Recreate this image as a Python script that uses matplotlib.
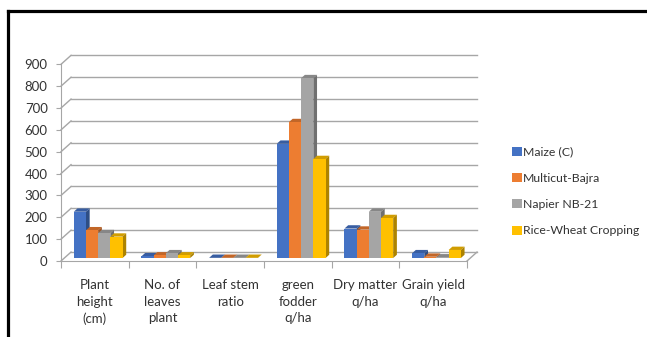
import matplotlib
matplotlib.use("Agg")
import matplotlib.pyplot as plt
from matplotlib.patches import Polygon, Patch
from matplotlib.lines import Line2D
import matplotlib.colors as mcolors
import numpy as np

plt.rcParams["font.family"] = ["Lato", "DejaVu Sans"]

categories = ["Plant\nheight\n(cm)", "No. of\nleaves\nplant", "Leaf stem\nratio",
              "green\nfodder\nq/ha", "Dry matter\nq/ha", "Grain yield\nq/ha"]
series = ["Maize (C)", "Multicut-Bajra", "Napier NB-21", "Rice-Wheat Cropping"]
maize = [212, 8, 1, 523, 135, 22]
multicut = [127, 12, 1, 622, 130, 6]
napier = [114, 22, 1, 823, 212, 3]
rice_wheat = [98, 12, 1, 453, 183, 37]
colors = ["#4472C4", "#ED7D31", "#A5A5A5", "#FFC000"]

values = [maize, multicut, napier, rice_wheat]

fig = plt.figure(figsize=(6.47, 3.37), dpi=100)
ax = fig.add_axes([0.0943, 0.2255, 0.6275, 0.5837])
ax.set_xlim(0, 6)
ax.set_ylim(0, 900)

# depth of the 3D box (in category units / value units)
dxb, dyb = 0.148, 41
f0, f1 = 0.33, 0.70
grid_c = "#a6a6a6"

def pt(x, y, f):
    return (x + f * dxb, y + f * dyb)

# back wall gridlines and left diagonals
for v in range(0, 1000, 100):
    ax.plot([dxb, 6 + dxb], [v + dyb, v + dyb], color=grid_c, lw=1, clip_on=False, zorder=1)
    ax.plot([0, dxb], [v, v + dyb], color=grid_c, lw=1, clip_on=False, zorder=1)
# floor right edge
ax.plot([6, 6 + dxb], [0, dyb], color=grid_c, lw=1, clip_on=False, zorder=1)

def shade(c, k):
    r, g, b = mcolors.to_rgb(c)
    return (r * k, g * k, b * k)

bw = 0.18
z = 3
for ci in range(len(categories)):
    for si, vals in enumerate(values):
        v = vals[ci]
        xl = ci + 0.5 - 2 * bw + si * bw
        xr = xl + bw
        c = colors[si]
        top = [pt(xl, v, f0), pt(xr, v, f0), pt(xr, v, f1), pt(xl, v, f1)]
        side = [pt(xr, 0, f0), pt(xr, v, f0), pt(xr, v, f1), pt(xr, 0, f1)]
        ax.add_patch(Polygon(top, closed=True, fc=shade(c, 0.82), ec="none", zorder=z, clip_on=False))
        ax.add_patch(Polygon(side, closed=True, fc=shade(c, 0.68), ec="none", zorder=z, clip_on=False))
        ax.bar(xl + f0 * dxb, v, bottom=f0 * dyb, width=bw, align="edge",
               color=c, zorder=z + 1, clip_on=False)
        z += 2

for s in ["top", "right"]:
    ax.spines[s].set_visible(False)
ax.spines["left"].set_color(grid_c)
ax.spines["bottom"].set_color(grid_c)
ax.spines["left"].set_zorder(1)
ax.spines["bottom"].set_zorder(1)

ax.set_yticks(range(0, 1000, 100))
ax.tick_params(axis="y", length=3.6, color=grid_c, pad=6, labelsize=9.5, labelcolor="#333333")
ax.set_xticks(range(7))
ax.set_xticklabels([])
ax.tick_params(axis="x", which="major", length=5, color=grid_c)
ax.set_xticks(np.arange(6) + 0.5, minor=True)
ax.set_xticklabels(categories, minor=True, fontsize=9.5, color="#333333", linespacing=1.45)
ax.tick_params(axis="x", which="minor", length=0, pad=13)
ax.patch.set_visible(False)

handles = [Patch(facecolor=c, edgecolor="none") for c in colors]
fig.legend(handles, series, loc="upper left", bbox_to_anchor=(0.775, 0.598),
           frameon=False, fontsize=8.8, handlelength=0.75, handleheight=0.75,
           handletextpad=0.1, labelspacing=1.25, labelcolor="#333333")

# outer frame
fig.add_artist(Line2D([7.5 / 647, 1], [1 - 11 / 337, 1 - 11 / 337], color="black", lw=2.3))
fig.add_artist(Line2D([8 / 647, 8 / 647], [0, 1 - 11 / 337], color="black", lw=2.3))

fig.savefig("out.png", dpi=100)
